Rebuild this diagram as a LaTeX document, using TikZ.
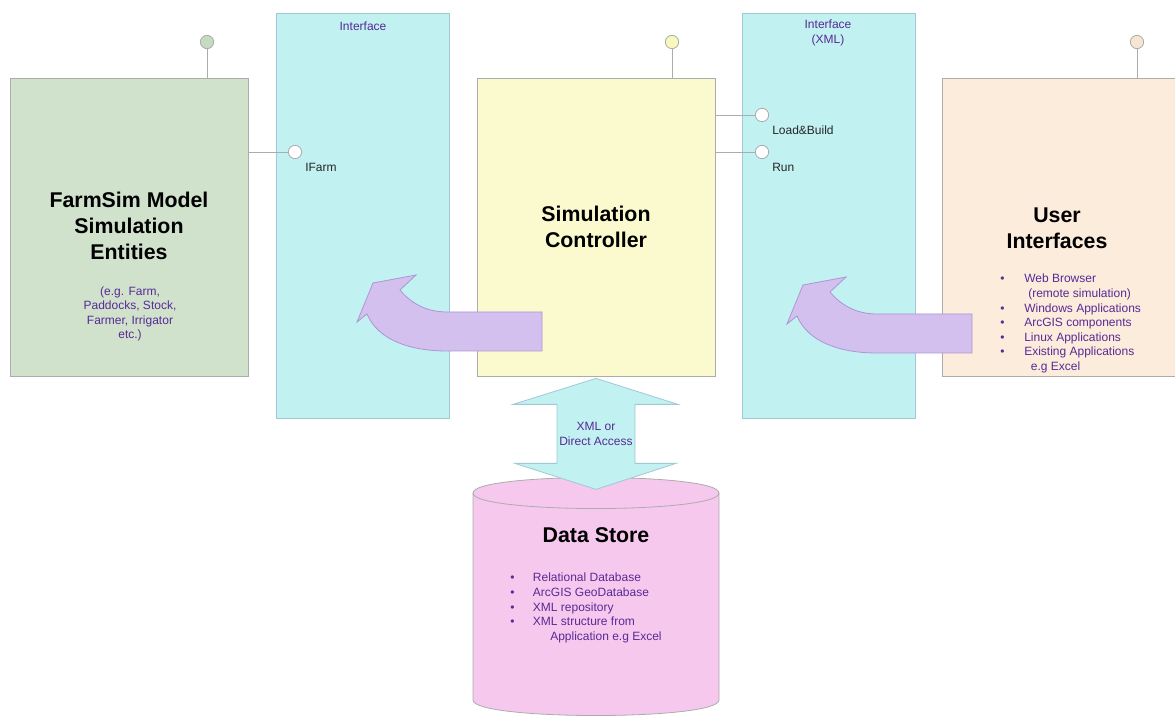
\documentclass[tikz,border=0pt]{standalone}
\usepackage{fontspec}
\setmainfont{Liberation Sans}
\usetikzlibrary{fit}

\definecolor{farmgreen}{RGB}{208,225,204}
\definecolor{farmball}{RGB}{198,218,194}
\definecolor{ifacecyan}{RGB}{193,241,241}
\definecolor{ctrlyellow}{RGB}{250,250,206}
\definecolor{ctrlball}{RGB}{248,247,190}
\definecolor{uipeach}{RGB}{252,236,219}
\definecolor{uiball}{RGB}{248,228,210}
\definecolor{storepink}{RGB}{246,200,238}
\definecolor{lavender}{RGB}{212,192,238}
\definecolor{lavenderline}{RGB}{172,150,212}
\definecolor{boxline}{RGB}{172,172,172}
\definecolor{cyanline}{RGB}{160,200,215}
\definecolor{purpletext}{RGB}{88,42,150}

\tikzset{
  box/.style={draw=boxline, line width=0.6pt, inner sep=0pt},
  ball/.style={circle, draw=boxline, line width=0.6pt, minimum size=10pt, inner sep=0pt},
  wire/.style={draw=boxline, line width=0.6pt},
  bigtext/.style={font=\fontsize{16}{19.5}\selectfont\bfseries, align=center, text=black},
  smalltext/.style={font=\fontsize{9}{10.9}\selectfont, text=purpletext},
  labeltext/.style={font=\fontsize{9}{10.9}\selectfont, text=black!85, anchor=west, inner sep=0pt},
  curvearrow/.style={fill=lavender, draw=lavenderline, line width=0.6pt},
  fatarrow/.style={fill=ifacecyan, draw=cyanline, line width=0.6pt}
}
\newcommand\itm[1][18pt]{\makebox[#1][l]{\textbullet}}
\def\bentarrow(#1){\draw[curvearrow, shift={(#1)}] (0,0) -- (-95,0) .. controls (-117,0) and (-132,-10) .. (-142,-22) -- (-126,-37) -- (-169,-29) -- (-185,10) -- (-175,2) .. controls (-164,28) and (-132,39) .. (-95,39) -- (0,39) -- cycle;}

\begin{document}
\begin{tikzpicture}[x=0.75pt, y=-0.75pt]
		%%%%% START %%%%%
		\useasboundingbox (0,0) rectangle (1175,716);
		
		% interfaces
		\node[box, draw=cyanline, fill=ifacecyan, fit={(276,13) (449,418)}] (ifaceleft) {};
		\node[box, draw=cyanline, fill=ifacecyan, fit={(742,13) (915,418)}] (ifaceright) {};
		\node[smalltext] (ifaceleftlbl) at (363,26) {Interface};
		\node[smalltext, align=center] (ifacerightlbl) at (828,33) {Interface\\(XML)};
		
		% components
		\node[box, fill=farmgreen, fit={(10,78) (248,376)}] (farm) {};
		\node[box, fill=ctrlyellow, fit={(477,78) (715,376)}] (ctrl) {};
		\node[box, fill=uipeach, fit={(942,78) (1180,376)}] (ui) {};
		
		\node[ball, fill=farmball] (farmtop) at (207,42) {};
		\node[ball, fill=ctrlball] (ctrltop) at (672,42) {};
		\node[ball, fill=uiball] (uitop) at (1137,42) {};
		\draw[wire] (farmtop) -- (farmtop |- farm.north);
		\draw[wire] (ctrltop) -- (ctrltop |- ctrl.north);
		\draw[wire] (uitop) -- (uitop |- ui.north);
		
		\node[ball, fill=white] (ifarm) at (295,152) {};
		\node[ball, fill=white] (loadbuild) at (762,115) {};
		\node[ball, fill=white] (run) at (762,152) {};
		\draw[wire] (farm.east |- ifarm) -- (ifarm);
		\draw[wire] (ctrl.east |- loadbuild) -- (loadbuild);
		\draw[wire] (ctrl.east |- run) -- (run);
		\node[labeltext] (ifarmlbl) at (305,167) {IFarm};
		\node[labeltext] (loadbuildlbl) at (772,130) {Load\&Build};
		\node[labeltext] (runlbl) at (772,167) {Run};
		
		% texts
		\node[bigtext] (farmtitle) at (129,226) {FarmSim Model\\Simulation\\Entities};
		\node[smalltext, align=center] (farmnote) at (130,314) {(e.g. Farm,\\Paddocks, Stock,\\Farmer, Irrigator\\etc.)};
		\node[bigtext] (ctrltitle) at (596,227) {Simulation\\Controller};
		\node[bigtext] (uititle) at (1057,228) {User\\Interfaces};
		\node[smalltext, align=left, anchor=north west, inner sep=0pt] (uilist) at (1000,274) {%
			\itm Web Browser\\
			\hspace*{21pt}(remote simulation)\\
			\itm Windows Applications\\
			\itm ArcGIS components\\
			\itm Linux Applications\\
			\itm Existing Applications\\
			\hspace*{23pt}e.g Excel};
		
		% bent arrows
		\bentarrow(542,312)
		\bentarrow(972,314)
		
		% data store
		\draw[box, fill=storepink] (473,493) -- (473,700) .. controls (473,720.7) and (719,720.7) .. (719,700) -- (719,493) .. controls (719,472.3) and (473,472.3) .. (473,493) -- cycle;
		\draw[wire] (473,493) .. controls (473,513.7) and (719,513.7) .. (719,493);
		\node[bigtext] (storetitle) at (596,535) {Data Store};
		\node[smalltext, align=left, anchor=north west, inner sep=0pt] (storelist) at (510,573) {%
			\itm[17pt]Relational Database\\
			\itm[17pt]ArcGIS GeoDatabase\\
			\itm[17pt]XML repository\\
			\itm[17pt]XML structure from\\
			\hspace*{30pt}Application e.g Excel};
		
		\draw[fatarrow, shift={(ctrl.south)}] (0,2) -- (82,28) -- (39,28) -- (39,87) -- (80,87) -- (0,113) -- (-81,87) -- (-39,87) -- (-39,28) -- (-83,28) -- cycle;
		\node[smalltext, align=center] (accesslbl) at (596,434) {XML or\\Direct Access};
		
		%%%%% END %%%%%
\end{tikzpicture}
\end{document}
